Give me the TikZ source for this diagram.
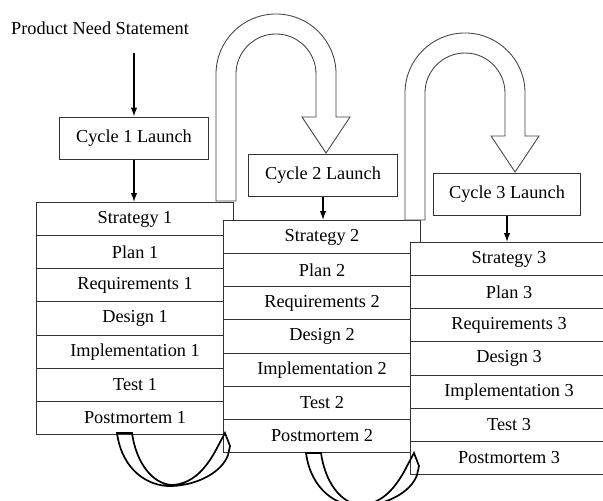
\documentclass[tikz,border=0pt]{standalone}
\usepackage{fontspec}
\setmainfont{Liberation Serif}
\usetikzlibrary{arrows.meta,positioning}

\tikzset{
  phase/.style={draw=black!80, fill=white, line width=0.75pt, minimum width=4.925cm,
    minimum height=0.8285cm, inner sep=0pt, anchor=north west},
  launch/.style={draw=black!80, fill=white, line width=0.7pt, minimum height=1.05cm, inner sep=0pt},
  uturn/.style={draw=black!75, line width=0.6pt, fill=white},
  backloop/.style={draw=black, line width=1.2pt}
}

\begin{document}
\begin{tikzpicture}[x=0.025cm,y=-0.025cm,>={Latex[length=2.2mm,width=1.6mm]},
  font=\fontsize{13}{15}\selectfont]
  \useasboundingbox (0,0) rectangle (603,500);
  \clip (0,0) rectangle (603,500);
  % ===================== fases de cada ciclo =====================
  \foreach \k/\x/\y in {1/36/202, 2/223/220, 3/410/242} {
    \foreach \lab [count=\i from 0] in {Strategy, Plan, Requirements, Design, Implementation, Test, Postmortem}
      \node[phase] (s\k r\i) at (\x,{\y+\i*33.14}) {\lab\ \k};
  }
  % ===================== lanzamientos =====================
  \node[font=\fontsize{13}{15}\selectfont] (need) at (100,28) {Product Need Statement};
  \node[launch, minimum width=3.725cm] (c1) at (134,138) {Cycle 1 Launch};
  \node[launch, minimum width=3.7cm] (c2) at (323,175) {Cycle 2 Launch};
  \node[launch, minimum width=3.65cm] (c3) at (507,194) {Cycle 3 Launch};
  \coordinate (needout) at (134,53);
  % flechas
  \draw[->,line width=1pt] (needout) -- (c1.north);
  \draw[->,line width=1pt] (c1.south) -- (c1.south |- s1r0.north);
  \draw[->,line width=1pt] (c2.south) -- (c2.south |- s2r0.north);
  \draw[->,line width=1pt] (c3.south) -- (c3.south |- s3r0.north);
  % ===================== flechas en U =====================
  \foreach \dx/\dy in {0/0, 189/19} {
    \begin{scope}[shift={(\dx,\dy)}]
      \path[uturn] (216,201) -- (216,74) arc[start angle=180, end angle=0, radius=1.5cm]
        -- (336,117) -- (350,117) -- (326,153) -- (302,117) -- (316,117) -- (316,74)
        arc[start angle=0, end angle=180, radius=1cm] -- (236,201) -- cycle;
    \end{scope}
  }
  % ===================== lazos de retorno =====================
  \foreach \dx/\dy in {0/0, 189/20} {
    \begin{scope}[shift={(\dx,\dy)}]
      \draw[backloop] (117,433) .. controls (122,470) and (148,487) .. (172,486)
        .. controls (198,485) and (222,472) .. (228,455) -- (230,446) -- (225,433)
        -- (218,446) .. controls (208,466) and (194,484) .. (172,485)
        .. controls (152,484) and (136,462) .. (132,433) -- cycle;
    \end{scope}
  }
\end{tikzpicture}
\end{document}
